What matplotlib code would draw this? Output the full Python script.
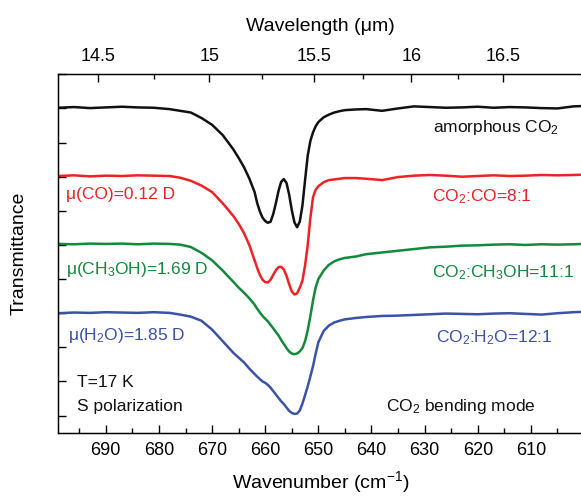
import numpy as np
import matplotlib
matplotlib.use("Agg")
import matplotlib.pyplot as plt
from matplotlib.ticker import FixedLocator, MultipleLocator

plt.rcParams["font.family"] = ["Liberation Sans", "DejaVu Sans"]
plt.rcParams["mathtext.fontset"] = "custom"
plt.rcParams["mathtext.rm"] = "Liberation Sans"
plt.rcParams["mathtext.it"] = "Liberation Sans:italic"

# wavenumber grid (cm-1)
wn = [699, 696, 693, 690, 687, 684, 681, 678, 676, 674, 672, 670, 668, 666,
      665, 664, 663, 662, 661.5, 661, 660.5, 660, 659.5, 659, 658.5, 658,
      657.5, 657, 656.5, 656, 655.5, 655, 654.5, 654, 653.5, 653, 652.5, 652,
      651.5, 651, 650.5, 650, 649, 648, 647, 646, 645, 643, 641, 638, 635,
      632, 629, 626, 623, 620, 617, 614, 611, 608, 605, 602, 600.2]

# offset transmittance traces
t_pure = [9.02, 9.04, 9.01, 9.03, 9.05, 9.03, 9.02, 8.98, 8.93, 8.88, 8.72,
          8.52, 8.22, 7.80, 7.55, 7.28, 6.95, 6.55, 6.22, 5.98, 5.80, 5.70,
          5.65, 5.68, 5.90, 6.22, 6.58, 6.85, 6.93, 6.82, 6.48, 6.02, 5.66,
          5.52, 5.68, 6.15, 6.90, 7.62, 8.05, 8.30, 8.48, 8.60, 8.74, 8.82,
          8.88, 8.92, 8.95, 8.97, 8.98, 8.93, 9.00, 9.06, 9.04, 9.02, 9.03,
          9.05, 9.02, 9.04, 9.03, 9.01, 9.00, 9.06, 9.07]
t_co = [7.02, 7.04, 7.01, 7.03, 7.02, 7.04, 7.03, 7.02, 6.97, 6.88, 6.74,
        6.55, 6.22, 5.85, 5.62, 5.35, 5.00, 4.55, 4.32, 4.12, 3.98, 3.91,
        3.90, 3.98, 4.12, 4.26, 4.35, 4.36, 4.28, 4.10, 3.85, 3.64, 3.55,
        3.58, 3.75, 3.95, 4.40, 5.00, 5.80, 6.40, 6.62, 6.72, 6.84, 6.90,
        6.92, 6.94, 6.96, 6.96, 6.94, 6.90, 6.99, 7.03, 7.05, 7.03, 7.00,
        7.02, 7.04, 7.02, 7.03, 7.05, 7.04, 7.05, 7.06]
t_ch3oh = [5.03, 5.02, 5.04, 5.03, 5.04, 5.02, 5.04, 5.03, 5.01, 4.94, 4.77,
           4.55, 4.25, 3.92, 3.75, 3.60, 3.44, 3.25, 3.13, 3.02, 2.92, 2.84,
           2.76, 2.66, 2.56, 2.45, 2.35, 2.22, 2.10, 1.98, 1.88, 1.82, 1.80,
           1.82, 1.88, 1.98, 2.18, 2.50, 2.92, 3.38, 3.76, 4.00, 4.25, 4.42,
           4.52, 4.58, 4.62, 4.66, 4.73, 4.78, 4.83, 4.88, 4.93, 4.95, 4.98,
           4.99, 5.01, 5.02, 5.00, 5.02, 5.01, 5.02, 5.03]
t_h2o = [3.00, 3.02, 3.01, 3.03, 3.02, 3.01, 3.03, 3.01, 2.96, 2.90, 2.78,
         2.52, 2.18, 1.84, 1.70, 1.56, 1.38, 1.22, 1.14, 1.07, 1.00, 0.96,
         0.90, 0.82, 0.72, 0.62, 0.52, 0.42, 0.34, 0.24, 0.14, 0.08, 0.05,
         0.06, 0.15, 0.35, 0.60, 0.86, 1.15, 1.45, 1.82, 2.15, 2.48, 2.64,
         2.73, 2.78, 2.82, 2.86, 2.89, 2.92, 2.93, 2.95, 2.97, 2.99, 2.98,
         2.97, 2.99, 3.00, 2.98, 2.96, 3.00, 3.03, 3.04]

wl_ticks = [14.5, 15, 15.5, 16, 16.5]
wl_minor = [14.75, 15.25, 15.75, 16.25]

red = "#ee2224"
green = "#13893c"
blue = "#3a52a8"

fig = plt.figure(figsize=(5.81, 4.97), dpi=100)
ax = fig.add_axes([0.0998, 0.1294, 0.9036, 0.7211])

ax.plot(wn, t_pure, color="#111111", lw=1.8)
ax.plot(wn, t_co, color=red, lw=1.8)
ax.plot(wn, t_ch3oh, color=green, lw=1.8)
ax.plot(wn, t_h2o, color=blue, lw=1.8)

ax.set_xlim(699, 600.2)
ax.set_ylim(-0.5, 10)
ax.xaxis.set_major_locator(MultipleLocator(10))
ax.xaxis.set_minor_locator(MultipleLocator(5))
ax.yaxis.set_major_locator(MultipleLocator(1))
ax.set_yticklabels([])
ax.tick_params(axis="both", which="major", direction="in", length=6, width=1,
               labelsize=13, top=False, right=False)
ax.tick_params(axis="both", which="minor", direction="in", length=3.5, width=1,
               top=False, right=False)
ax.tick_params(axis="x", pad=7)
for s in ax.spines.values():
    s.set_linewidth(1)

ax.set_xlabel("Wavenumber (cm$^{-1}$)", fontsize=14, labelpad=7)
ax.set_ylabel("Transmittance", fontsize=14, labelpad=18)

# top axis: wavelength
ax2 = ax.twiny()
ax2.set_xlim(697.84, 589.64)
ax2.xaxis.set_major_locator(FixedLocator([1e4 / w for w in wl_ticks]))
ax2.xaxis.set_minor_locator(FixedLocator([1e4 / w for w in wl_minor]))
ax2.set_xticklabels([f"{w:g}" for w in wl_ticks])
ax2.tick_params(axis="x", which="major", direction="in", length=6, width=1,
                labelsize=13, pad=7)
ax2.tick_params(axis="x", which="minor", direction="in", length=3.5, width=1)
ax2.set_xlabel("Wavelength (\u03bcm)", fontsize=14, labelpad=12)

fs = 12.5
ax.text(628.4, 8.43, "amorphous CO$_2$", fontsize=fs, color="#111111", va="center")
ax.text(628.7, 6.42, "CO$_2$:CO=8:1", fontsize=fs, color=red, va="center")
ax.text(628.7, 4.19, "CO$_2$:CH$_3$OH=11:1", fontsize=fs, color=green, va="center")
ax.text(627.8, 2.28, "CO$_2$:H$_2$O=12:1", fontsize=fs, color=blue, va="center")
ax.text(637.3, 0.27, "CO$_2$ bending mode", fontsize=fs, color="#111111", va="center")

ax.text(697.4, 6.47, "\u03bc(CO)=0.12 D", fontsize=fs, color=red, va="center")
ax.text(697.5, 4.27, "\u03bc(CH$_3$OH)=1.69 D", fontsize=fs, color=green, va="center")
ax.text(697.1, 2.34, "\u03bc(H$_2$O)=1.85 D", fontsize=fs, color=blue, va="center")
ax.text(695.5, 0.97, "T=17 K", fontsize=fs, color="#111111", va="center")
ax.text(695.5, 0.27, "S polarization", fontsize=fs, color="#111111", va="center")

fig.savefig("out.png", dpi=100)
